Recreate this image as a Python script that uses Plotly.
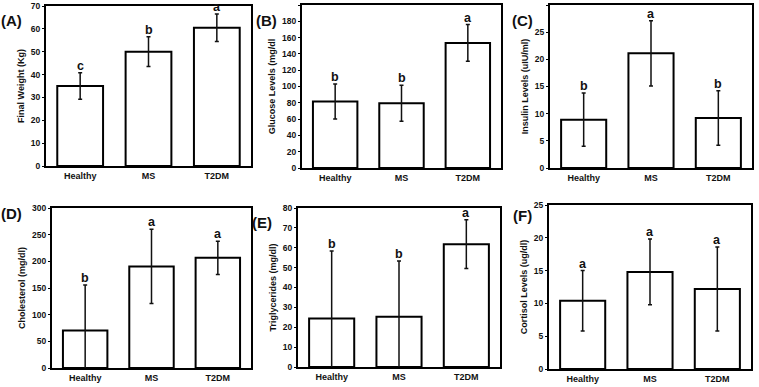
import plotly.graph_objects as go

groups = ["Healthy", "MS", "T2DM"]

weight_mean = [35.0, 50.0, 60.5]
weight_err = [5.8, 6.5, 6.0]
weight_letters = ["c", "b", "a"]

glucose_mean = [81.5, 79.5, 153.5]
glucose_err = [21.5, 22.0, 22.5]
glucose_letters = ["b", "b", "a"]

insulin_mean = [8.9, 21.1, 9.2]
insulin_err = [4.9, 6.0, 5.0]
insulin_letters = ["b", "a", "b"]

chol_mean = [70.5, 190.5, 206.5]
chol_err = [85.0, 69.5, 31.0]
chol_letters = ["b", "a", "a"]

trig_mean = [24.4, 25.3, 61.8]
trig_err = [34.0, 28.0, 12.3]
trig_letters = ["b", "b", "a"]

cortisol_mean = [10.4, 14.8, 12.2]
cortisol_err = [4.6, 5.0, 6.4]
cortisol_letters = ["a", "a", "a"]

y_titles = ["Final Weight (Kg)", "Glucose Levels (mg/dl", "Insulin Levels (uIU/ml)",
            "Cholesterol (mg/dl)", "Triglycerides (mg/dl)", "Cortisol Levels (ug/dl)"]
y_ranges = [(0, 70, 10), (0, 200, 20), (0, 30, 5), (0, 300, 50), (0, 80, 10), (0, 25, 5)]
panel_labels = ["(A)", "(B)", "(C)", "(D)", "(E)", "(F)"]

W, H = 759, 387
# pixel boxes (left, right, top, bottom)
boxes = [(46, 251, 6, 166), (302, 501, 5, 168), (550, 752, 5, 168),
         (52, 251, 208, 368), (298, 500, 208, 367), (549, 751, 205, 369)]
label_pos = [(11, 20), (266, 20), (522, 20), (11, 213), (262, 222), (522, 215)]

means = [weight_mean, glucose_mean, insulin_mean, chol_mean, trig_mean, cortisol_mean]
errs = [weight_err, glucose_err, insulin_err, chol_err, trig_err, cortisol_err]
letters = [weight_letters, glucose_letters, insulin_letters, chol_letters, trig_letters, cortisol_letters]

FONT = "Liberation Sans, Arial, sans-serif"
fig = go.Figure()
annotations = []
for i in range(6):
    sfx = "" if i == 0 else str(i + 1)
    fig.add_trace(go.Bar(
        x=groups, y=means[i], width=0.67,
        marker=dict(color="white", line=dict(color="black", width=2)),
        error_y=dict(type="data", array=errs[i], visible=True, color="#111",
                     thickness=1.5, width=2),
        xaxis="x" + sfx, yaxis="y" + sfx, showlegend=False, hoverinfo="skip",
    ))
    l, r, t, b = boxes[i]
    lo, hi, dt = y_ranges[i]
    fig.layout["xaxis" + sfx] = dict(
        domain=[l / W, r / W], anchor="y" + sfx, showline=True, mirror=True,
        linecolor="black", linewidth=2, ticks="", showgrid=False, automargin=False,
        tickfont=dict(family=FONT, size=9, color="#111", weight="bold"),
    )
    fig.layout["yaxis" + sfx] = dict(
        domain=[1 - b / H, 1 - t / H], anchor="x" + sfx, range=[lo, hi], dtick=dt,
        showline=True, mirror=True, linecolor="black", linewidth=2, automargin=False,
        ticks="outside", ticklen=2, tickcolor="black", showgrid=False, zeroline=False,
        tickfont=dict(family=FONT, size=8.5, color="#111", weight="bold"),
        title=dict(text="<b>" + y_titles[i] + "</b>", standoff=5,
                   font=dict(family=FONT, size=9, color="#111")),
    )
    for j, g in enumerate(groups):
        annotations.append(dict(
            x=g, y=means[i][j] + errs[i][j], xref="x" + sfx, yref="y" + sfx,
            text="<b>" + letters[i][j] + "</b>", showarrow=False, yanchor="bottom",
            yshift=-2, font=dict(family=FONT, size=12.5, color="#111"),
        ))
    lx, ly = label_pos[i]
    annotations.append(dict(
        x=lx / W, y=1 - ly / H, xref="paper", yref="paper", text="<b>" + panel_labels[i] + "</b>",
        showarrow=False, xanchor="center", yanchor="middle",
        font=dict(family=FONT, size=15, color="#111"),
    ))

fig.update_layout(
    width=W, height=H, margin=dict(l=0, r=0, t=0, b=0),
    paper_bgcolor="white", plot_bgcolor="white", annotations=annotations,
    bargap=0.33, hovermode=False,
)
fig.write_html(
    "out.html",
    config={"displayModeBar": False, "staticPlot": True},
    post_script="document.body.style.margin='0';document.body.style.overflow='hidden';",
)
